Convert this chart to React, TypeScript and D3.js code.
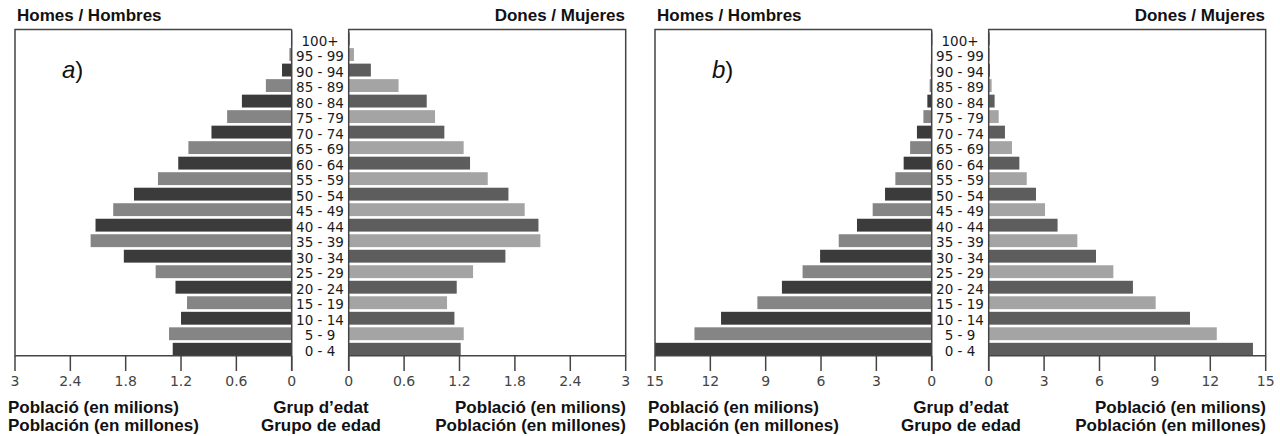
import React, { useEffect, useRef } from "react";
import * as d3 from "d3";

// age groups, bottom to top
const ages = ["0 - 4", "5 - 9", "10 - 14", "15 - 19", "20 - 24", "25 - 29", "30 - 34", "35 - 39", "40 - 44", "45 - 49",
    "50 - 54", "55 - 59", "60 - 64", "65 - 69", "70 - 74", "75 - 79", "80 - 84", "85 - 89", "90 - 94", "95 - 99", "100+"];

// panel a) population in millions
const menA = [1.29, 1.33, 1.2, 1.135, 1.26, 1.475, 1.82, 2.18, 2.127, 1.935, 1.71, 1.45, 1.23, 1.12, 0.87, 0.7, 0.54, 0.28, 0.105, 0.025, 0.006];
const womenA = [1.213, 1.246, 1.145, 1.065, 1.17, 1.347, 1.697, 2.076, 2.055, 1.906, 1.73, 1.506, 1.314, 1.245, 1.036, 0.935, 0.845, 0.54, 0.24, 0.057, 0.008];
const ticksA = [0, 0.6, 1.2, 1.8, 2.4, 3];

// panel b) population in millions
const menB = [15.0, 12.86, 11.42, 9.45, 8.12, 7.0, 6.05, 5.04, 4.05, 3.2, 2.53, 1.97, 1.52, 1.17, 0.8, 0.45, 0.235, 0.11, 0.05, 0.03, 0.02];
const womenB = [14.31, 12.35, 10.9, 9.04, 7.81, 6.75, 5.81, 4.8, 3.73, 3.05, 2.56, 2.06, 1.66, 1.26, 0.88, 0.54, 0.32, 0.16, 0.07, 0.04, 0.03];
const ticksB = [0, 3, 6, 9, 12, 15];

const panels = [
    { tag: "a", men: menA, women: womenA, ticks: ticksA, dx: 0, tagX: 62 },
    { tag: "b", men: menB, women: womenB, ticks: ticksB, dx: 640, tagX: 72 },
];

const SANS = "'Liberation Sans', Arial, sans-serif";
const DEJAVU = "'DejaVu Sans', Verdana, sans-serif";

function App() {
    const ref = useRef<SVGSVGElement>(null);

    useEffect(() => {
        const svg = d3.select(ref.current);
        svg.selectAll("*").remove();

        const top = 29.5, bottom = 355.7;
        const mL = 15, mR = 291.7, fL = 348.7, fR = 625.7;
        const tickEnd = 371;
        const frame = "#444";

        const yScale = d3.scaleBand<string>()
            .domain(ages.slice().reverse())
            .range([top, bottom])
            .paddingInner(0.17)
            .paddingOuter(0.1)
            .align(1);

        panels.forEach((p) => {
            const max = p.ticks[p.ticks.length - 1];
            const xM = d3.scaleLinear().domain([0, max]).range([mR, mL]);
            const xF = d3.scaleLinear().domain([0, max]).range([fL, fR]);
            const g = svg.append("g").attr("transform", `translate(${p.dx},0)`);

            // bars
            g.selectAll("rect.m").data(p.men).enter().append("rect")
                .attr("x", (d) => xM(d))
                .attr("y", (d, i) => yScale(ages[i]) as number)
                .attr("width", (d) => Math.max(1, xM(0) - xM(d)))
                .attr("height", yScale.bandwidth())
                .attr("fill", (d, i) => (i % 2 === 0 ? "#3b3b3b" : "#858585"));

            g.selectAll("rect.f").data(p.women).enter().append("rect")
                .attr("x", xF(0))
                .attr("y", (d, i) => yScale(ages[i]) as number)
                .attr("width", (d) => Math.max(1, xF(d) - xF(0)))
                .attr("height", yScale.bandwidth())
                .attr("fill", (d, i) => (i % 2 === 0 ? "#5d5d5d" : "#a4a4a4"));

            // frames
            g.append("path")
                .attr("d", `M${mR},${top}H${mL}V${bottom}H${mR}V${tickEnd}M${mR},${top}V${bottom}`)
                .attr("fill", "none").attr("stroke", frame).attr("stroke-width", 1.5);
            g.append("path")
                .attr("d", `M${fL},${tickEnd}V${top}H${fR}V${bottom}H${fL}`)
                .attr("fill", "none").attr("stroke", frame).attr("stroke-width", 1.5);

            // ticks
            const fmt = (v: number) => d3.format("~g")(v);
            [xM, xF].forEach((sc) => {
                const t = g.append("g");
                t.selectAll("line").data(p.ticks).enter().append("line")
                    .attr("x1", (d) => sc(d)).attr("x2", (d) => sc(d))
                    .attr("y1", bottom).attr("y2", tickEnd)
                    .attr("stroke", frame).attr("stroke-width", 1.5);
                t.selectAll("text").data(p.ticks).enter().append("text")
                    .attr("x", (d) => sc(d)).attr("y", 381)
                    .attr("text-anchor", "middle").attr("dominant-baseline", "central")
                    .attr("font-family", DEJAVU).attr("font-size", 14).attr("fill", "#444")
                    .text((d) => fmt(d));
            });

            // age labels
            g.selectAll("text.age").data(ages).enter().append("text")
                .attr("x", 320)
                .attr("y", (d) => (yScale(d) as number) + yScale.bandwidth() / 2 + 1.5)
                .attr("text-anchor", "middle").attr("dominant-baseline", "central")
                .attr("font-family", DEJAVU).attr("font-size", 13.5).attr("fill", "#1a1a1a")
                .text((d) => d);

            // headers
            const bold = (x: number, y: number, anchor: string, s: string) =>
                g.append("text").attr("x", x).attr("y", y).attr("text-anchor", anchor)
                    .attr("font-family", SANS).attr("font-weight", "bold").attr("font-size", 17)
                    .attr("fill", "#111").text(s);
            bold(17, 21, "start", "Homes / Hombres");
            bold(625, 21, "end", "Dones / Mujeres");
            bold(8, 413, "start", "Població (en milions)");
            bold(8, 431, "start", "Población (en millones)");
            bold(626, 413, "end", "Població (en milions)");
            bold(626, 431, "end", "Población (en millones)");
            bold(321, 413, "middle", "Grup d\u2019edat");
            bold(321, 431, "middle", "Grupo de edad");

            // panel tag
            const tag = g.append("text").attr("x", p.tagX).attr("y", 78)
                .attr("font-family", SANS).attr("font-size", 24).attr("fill", "#111");
            tag.append("tspan").attr("font-style", "italic").text(p.tag);
            tag.append("tspan").text(")");
        });
    }, []);

    return (
        <svg ref={ref} width={1280} height={436}
            style={{ position: "absolute", left: 0, top: 0, background: "#fff" }} />
    );
}

export default App;
